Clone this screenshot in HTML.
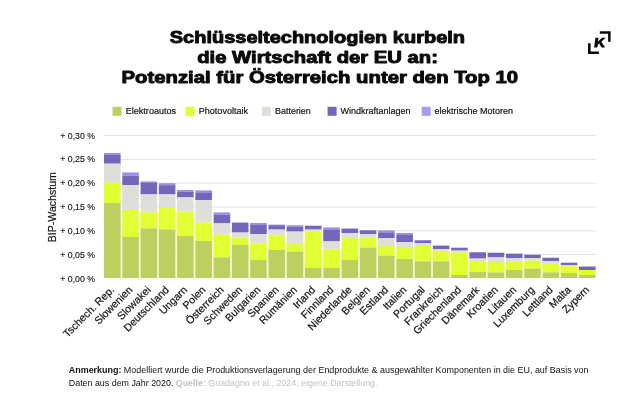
<!DOCTYPE html>
<html lang="de"><head><meta charset="utf-8"><title>Chart</title>
<style>
html,body{margin:0;padding:0;background:#fff;}
body{width:640px;height:406px;overflow:hidden;font-family:"Liberation Sans",sans-serif;}
svg{display:block;position:absolute;left:0;top:0;filter:blur(0.35px);}
text{font-family:"Liberation Sans",sans-serif;}
.t{font-weight:bold;font-size:17px;fill:#0b0b0b;stroke:#0b0b0b;stroke-width:0.95px;stroke-linejoin:round;}
.lg{font-size:9.2px;fill:#151515;stroke:#151515;stroke-width:0.2px;}
.yl{font-size:8.8px;fill:#1a1a1a;stroke:#1a1a1a;stroke-width:0.15px;}
.xl{font-size:10.6px;fill:#151515;stroke:#151515;stroke-width:0.2px;}
.ft{font-size:8.8px;fill:#111;}
</style></head><body>
<svg width="640" height="406" viewBox="0 0 640 406">
<rect width="640" height="406" fill="#ffffff"/>
<text class="t" x="169.8" y="42.5" textLength="295.2" lengthAdjust="spacingAndGlyphs">Schlüsseltechnologien kurbeln</text>
<text class="t" x="197.2" y="62.5" textLength="240.8" lengthAdjust="spacingAndGlyphs">die Wirtschaft der EU an:</text>
<text class="t" x="121.5" y="82.5" textLength="396.6" lengthAdjust="spacingAndGlyphs">Potenzial für Österreich unter den Top 10</text>
<g fill="#0b0b0b"><path d="M599.8 31.3H610.6V41.7H608.1V33.7H599.8Z"/><path d="M588 43.3H590.6V51.5H598.9V54H588Z"/><path d="M595.4 37.7H598.6L598.0 41.5L602.0 37.7H605.7L601.3 41.7L605.2 47.6H601.6L599.1 43.5L597.9 44.6L597.3 47.6H594.1Z"/></g>
<rect x="112.5" y="106.8" width="9" height="9" fill="#bdd05f"/><text class="lg" x="125.8" y="114.2" textLength="50.2" lengthAdjust="spacingAndGlyphs">Elektroautos</text>
<rect x="185.5" y="106.8" width="9" height="9" fill="#e2ff33"/><text class="lg" x="198.8" y="114.2" textLength="49.2" lengthAdjust="spacingAndGlyphs">Photovoltaik</text>
<rect x="261.8" y="106.8" width="9" height="9" fill="#dfded9"/><text class="lg" x="275" y="114.2" textLength="35.8" lengthAdjust="spacingAndGlyphs">Batterien</text>
<rect x="327.6" y="106.8" width="9" height="9" fill="#7466b8"/><text class="lg" x="340.5" y="114.2" textLength="70" lengthAdjust="spacingAndGlyphs">Windkraftanlagen</text>
<rect x="421.7" y="106.8" width="9" height="9" fill="#a79df0"/><text class="lg" x="434.5" y="114.2" textLength="78.5" lengthAdjust="spacingAndGlyphs">elektrische Motoren</text>
<line x1="103.2" x2="596" y1="135.4" y2="135.4" stroke="#e1e1e1" stroke-width="1"/><text class="yl" x="60.3" y="138.5" textLength="34.7" lengthAdjust="spacingAndGlyphs">+ 0,30 %</text>
<line x1="103.2" x2="596" y1="159.3" y2="159.3" stroke="#e1e1e1" stroke-width="1"/><text class="yl" x="60.3" y="162.4" textLength="34.7" lengthAdjust="spacingAndGlyphs">+ 0,25 %</text>
<line x1="103.2" x2="596" y1="183.1" y2="183.1" stroke="#e1e1e1" stroke-width="1"/><text class="yl" x="60.3" y="186.2" textLength="34.7" lengthAdjust="spacingAndGlyphs">+ 0,20 %</text>
<line x1="103.2" x2="596" y1="207.0" y2="207.0" stroke="#e1e1e1" stroke-width="1"/><text class="yl" x="60.3" y="210.1" textLength="34.7" lengthAdjust="spacingAndGlyphs">+ 0,15 %</text>
<line x1="103.2" x2="596" y1="230.8" y2="230.8" stroke="#e1e1e1" stroke-width="1"/><text class="yl" x="60.3" y="233.9" textLength="34.7" lengthAdjust="spacingAndGlyphs">+ 0,10 %</text>
<line x1="103.2" x2="596" y1="254.6" y2="254.6" stroke="#e1e1e1" stroke-width="1"/><text class="yl" x="60.3" y="257.7" textLength="34.7" lengthAdjust="spacingAndGlyphs">+ 0,05 %</text>
<text class="yl" x="60.3" y="281.5" textLength="34.7" lengthAdjust="spacingAndGlyphs">+ 0,00 %</text>
<text class="lg" style="font-size:10.4px" transform="translate(56.0,242.3) rotate(-90)" textLength="70.2" lengthAdjust="spacingAndGlyphs">BIP-Wachstum</text>
<rect x="120.60" y="210.0" width="1.67" height="68.0" fill="#f8fbd6"/><rect x="138.87" y="212.3" width="1.67" height="65.7" fill="#f8fbd6"/><rect x="157.14" y="212.3" width="1.67" height="65.7" fill="#f8fbd6"/><rect x="175.41" y="211.6" width="1.67" height="66.4" fill="#f8fbd6"/><rect x="193.68" y="222.5" width="1.67" height="55.5" fill="#f8fbd6"/><rect x="211.95" y="234.6" width="1.67" height="43.4" fill="#f8fbd6"/><rect x="230.22" y="237.6" width="1.67" height="40.4" fill="#f8fbd6"/><rect x="248.49" y="243.4" width="1.67" height="34.6" fill="#f8fbd6"/><rect x="266.76" y="243.4" width="1.67" height="34.6" fill="#f8fbd6"/><rect x="285.03" y="243.0" width="1.67" height="35.0" fill="#f8fbd6"/><rect x="303.30" y="243.0" width="1.67" height="35.0" fill="#f8fbd6"/><rect x="321.57" y="249.4" width="1.67" height="28.6" fill="#f8fbd6"/><rect x="339.84" y="249.4" width="1.67" height="28.6" fill="#f8fbd6"/><rect x="358.11" y="238.0" width="1.67" height="40.0" fill="#f8fbd6"/><rect x="376.38" y="246.0" width="1.67" height="32.0" fill="#f8fbd6"/><rect x="394.65" y="248.0" width="1.67" height="30.0" fill="#f8fbd6"/><rect x="412.92" y="248.0" width="1.67" height="30.0" fill="#f8fbd6"/><rect x="431.19" y="252.0" width="1.67" height="26.0" fill="#f8fbd6"/><rect x="449.46" y="252.4" width="1.67" height="25.6" fill="#f8fbd6"/><rect x="467.73" y="261.0" width="1.67" height="17.0" fill="#f8fbd6"/><rect x="486.00" y="262.0" width="1.67" height="16.0" fill="#f8fbd6"/><rect x="504.27" y="262.0" width="1.67" height="16.0" fill="#f8fbd6"/><rect x="522.54" y="261.6" width="1.67" height="16.4" fill="#f8fbd6"/><rect x="540.81" y="264.0" width="1.67" height="14.0" fill="#f8fbd6"/><rect x="559.08" y="266.0" width="1.67" height="12.0" fill="#f8fbd6"/><rect x="577.35" y="270.0" width="1.67" height="8.0" fill="#f8fbd6"/>
<rect x="104.00" y="153.0" width="16.6" height="1.5" fill="#9a8fe2"/><rect x="104.00" y="154.5" width="16.6" height="9.2" fill="#7466b8"/><rect x="104.00" y="163.7" width="16.6" height="18.9" fill="#dfded9"/><rect x="104.00" y="182.6" width="16.6" height="20.4" fill="#e2ff33"/><rect x="104.00" y="203.0" width="16.6" height="75.0" fill="#bdd05f"/>
<text class="xl" text-anchor="end" transform="translate(114.9,290.5) rotate(-45)">Tschech. Rep.</text>
<rect x="122.27" y="172.4" width="16.6" height="3.2" fill="#9a8fe2"/><rect x="122.27" y="175.6" width="16.6" height="9.6" fill="#7466b8"/><rect x="122.27" y="185.2" width="16.6" height="24.8" fill="#dfded9"/><rect x="122.27" y="210.0" width="16.6" height="27.0" fill="#e2ff33"/><rect x="122.27" y="237.0" width="16.6" height="41.0" fill="#bdd05f"/>
<text class="xl" text-anchor="end" transform="translate(133.2,290.5) rotate(-45)">Slowenien</text>
<rect x="140.54" y="181.4" width="16.6" height="1.6" fill="#9a8fe2"/><rect x="140.54" y="183.0" width="16.6" height="11.4" fill="#7466b8"/><rect x="140.54" y="194.4" width="16.6" height="17.9" fill="#dfded9"/><rect x="140.54" y="212.3" width="16.6" height="16.0" fill="#e2ff33"/><rect x="140.54" y="228.3" width="16.6" height="49.7" fill="#bdd05f"/>
<text class="xl" text-anchor="end" transform="translate(151.4,290.5) rotate(-45)">Slowakei</text>
<rect x="158.81" y="183.2" width="16.6" height="2.0" fill="#9a8fe2"/><rect x="158.81" y="185.2" width="16.6" height="9.2" fill="#7466b8"/><rect x="158.81" y="194.4" width="16.6" height="13.6" fill="#dfded9"/><rect x="158.81" y="208.0" width="16.6" height="21.5" fill="#e2ff33"/><rect x="158.81" y="229.5" width="16.6" height="48.5" fill="#bdd05f"/>
<text class="xl" text-anchor="end" transform="translate(169.7,290.5) rotate(-45)">Deutschland</text>
<rect x="177.08" y="190.0" width="16.6" height="1.6" fill="#9a8fe2"/><rect x="177.08" y="191.6" width="16.6" height="5.8" fill="#7466b8"/><rect x="177.08" y="197.4" width="16.6" height="14.2" fill="#dfded9"/><rect x="177.08" y="211.6" width="16.6" height="24.4" fill="#e2ff33"/><rect x="177.08" y="236.0" width="16.6" height="42.0" fill="#bdd05f"/>
<text class="xl" text-anchor="end" transform="translate(188.0,290.5) rotate(-45)">Ungarn</text>
<rect x="195.35" y="190.4" width="16.6" height="2.6" fill="#9a8fe2"/><rect x="195.35" y="193.0" width="16.6" height="7.0" fill="#7466b8"/><rect x="195.35" y="200.0" width="16.6" height="22.5" fill="#dfded9"/><rect x="195.35" y="222.5" width="16.6" height="18.5" fill="#e2ff33"/><rect x="195.35" y="241.0" width="16.6" height="37.0" fill="#bdd05f"/>
<text class="xl" text-anchor="end" transform="translate(206.2,290.5) rotate(-45)">Polen</text>
<rect x="213.62" y="212.4" width="16.6" height="2.4" fill="#9a8fe2"/><rect x="213.62" y="214.8" width="16.6" height="8.6" fill="#7466b8"/><rect x="213.62" y="223.4" width="16.6" height="11.2" fill="#dfded9"/><rect x="213.62" y="234.6" width="16.6" height="22.8" fill="#e2ff33"/><rect x="213.62" y="257.4" width="16.6" height="20.6" fill="#bdd05f"/>
<text class="xl" text-anchor="end" transform="translate(224.5,290.5) rotate(-45)">Österreich</text>
<rect x="231.89" y="222.4" width="16.6" height="0.6" fill="#9a8fe2"/><rect x="231.89" y="223.0" width="16.6" height="9.6" fill="#7466b8"/><rect x="231.89" y="232.6" width="16.6" height="5.0" fill="#dfded9"/><rect x="231.89" y="237.6" width="16.6" height="7.4" fill="#e2ff33"/><rect x="231.89" y="245.0" width="16.6" height="33.0" fill="#bdd05f"/>
<text class="xl" text-anchor="end" transform="translate(242.8,290.5) rotate(-45)">Schweden</text>
<rect x="250.16" y="223.0" width="16.6" height="2.0" fill="#9a8fe2"/><rect x="250.16" y="225.0" width="16.6" height="9.0" fill="#7466b8"/><rect x="250.16" y="234.0" width="16.6" height="9.4" fill="#dfded9"/><rect x="250.16" y="243.4" width="16.6" height="16.6" fill="#e2ff33"/><rect x="250.16" y="260.0" width="16.6" height="18.0" fill="#bdd05f"/>
<text class="xl" text-anchor="end" transform="translate(261.1,290.5) rotate(-45)">Bulgarien</text>
<rect x="268.43" y="224.6" width="16.6" height="0.6" fill="#9a8fe2"/><rect x="268.43" y="225.2" width="16.6" height="4.4" fill="#7466b8"/><rect x="268.43" y="229.6" width="16.6" height="5.8" fill="#dfded9"/><rect x="268.43" y="235.4" width="16.6" height="14.6" fill="#e2ff33"/><rect x="268.43" y="250.0" width="16.6" height="28.0" fill="#bdd05f"/>
<text class="xl" text-anchor="end" transform="translate(279.3,290.5) rotate(-45)">Spanien</text>
<rect x="286.70" y="225.2" width="16.6" height="1.4" fill="#9a8fe2"/><rect x="286.70" y="226.6" width="16.6" height="5.0" fill="#7466b8"/><rect x="286.70" y="231.6" width="16.6" height="11.4" fill="#dfded9"/><rect x="286.70" y="243.0" width="16.6" height="8.6" fill="#e2ff33"/><rect x="286.70" y="251.6" width="16.6" height="26.4" fill="#bdd05f"/>
<text class="xl" text-anchor="end" transform="translate(297.6,290.5) rotate(-45)">Rumänien</text>
<rect x="304.97" y="225.6" width="16.6" height="0.4" fill="#9a8fe2"/><rect x="304.97" y="226.0" width="16.6" height="3.6" fill="#7466b8"/><rect x="304.97" y="229.6" width="16.6" height="1.8" fill="#dfded9"/><rect x="304.97" y="231.4" width="16.6" height="36.6" fill="#e2ff33"/><rect x="304.97" y="268.0" width="16.6" height="10.0" fill="#bdd05f"/>
<text class="xl" text-anchor="end" transform="translate(315.9,290.5) rotate(-45)">Irland</text>
<rect x="323.24" y="227.4" width="16.6" height="2.6" fill="#9a8fe2"/><rect x="323.24" y="230.0" width="16.6" height="11.4" fill="#7466b8"/><rect x="323.24" y="241.4" width="16.6" height="8.0" fill="#dfded9"/><rect x="323.24" y="249.4" width="16.6" height="18.6" fill="#e2ff33"/><rect x="323.24" y="268.0" width="16.6" height="10.0" fill="#bdd05f"/>
<text class="xl" text-anchor="end" transform="translate(334.1,290.5) rotate(-45)">Finnland</text>
<rect x="341.51" y="228.4" width="16.6" height="0.6" fill="#9a8fe2"/><rect x="341.51" y="229.0" width="16.6" height="4.0" fill="#7466b8"/><rect x="341.51" y="233.0" width="16.6" height="5.0" fill="#dfded9"/><rect x="341.51" y="238.0" width="16.6" height="22.0" fill="#e2ff33"/><rect x="341.51" y="260.0" width="16.6" height="18.0" fill="#bdd05f"/>
<text class="xl" text-anchor="end" transform="translate(352.4,290.5) rotate(-45)">Niederlande</text>
<rect x="359.78" y="230.0" width="16.6" height="0.4" fill="#9a8fe2"/><rect x="359.78" y="230.4" width="16.6" height="3.6" fill="#7466b8"/><rect x="359.78" y="234.0" width="16.6" height="3.6" fill="#dfded9"/><rect x="359.78" y="237.6" width="16.6" height="10.0" fill="#e2ff33"/><rect x="359.78" y="247.6" width="16.6" height="30.4" fill="#bdd05f"/>
<text class="xl" text-anchor="end" transform="translate(370.7,290.5) rotate(-45)">Belgien</text>
<rect x="378.05" y="230.4" width="16.6" height="2.0" fill="#9a8fe2"/><rect x="378.05" y="232.4" width="16.6" height="5.6" fill="#7466b8"/><rect x="378.05" y="238.0" width="16.6" height="8.0" fill="#dfded9"/><rect x="378.05" y="246.0" width="16.6" height="9.6" fill="#e2ff33"/><rect x="378.05" y="255.6" width="16.6" height="22.4" fill="#bdd05f"/>
<text class="xl" text-anchor="end" transform="translate(389.0,290.5) rotate(-45)">Estland</text>
<rect x="396.32" y="233.0" width="16.6" height="1.4" fill="#9a8fe2"/><rect x="396.32" y="234.4" width="16.6" height="7.6" fill="#7466b8"/><rect x="396.32" y="242.0" width="16.6" height="6.0" fill="#dfded9"/><rect x="396.32" y="248.0" width="16.6" height="11.0" fill="#e2ff33"/><rect x="396.32" y="259.0" width="16.6" height="19.0" fill="#bdd05f"/>
<text class="xl" text-anchor="end" transform="translate(407.2,290.5) rotate(-45)">Italien</text>
<rect x="414.59" y="240.0" width="16.6" height="0.4" fill="#9a8fe2"/><rect x="414.59" y="240.4" width="16.6" height="2.6" fill="#7466b8"/><rect x="414.59" y="243.0" width="16.6" height="3.0" fill="#dfded9"/><rect x="414.59" y="246.0" width="16.6" height="15.4" fill="#e2ff33"/><rect x="414.59" y="261.4" width="16.6" height="16.6" fill="#bdd05f"/>
<text class="xl" text-anchor="end" transform="translate(425.5,290.5) rotate(-45)">Portugal</text>
<rect x="432.86" y="245.4" width="16.6" height="0.4" fill="#9a8fe2"/><rect x="432.86" y="245.8" width="16.6" height="3.2" fill="#7466b8"/><rect x="432.86" y="249.0" width="16.6" height="3.0" fill="#dfded9"/><rect x="432.86" y="252.0" width="16.6" height="9.4" fill="#e2ff33"/><rect x="432.86" y="261.4" width="16.6" height="16.6" fill="#bdd05f"/>
<text class="xl" text-anchor="end" transform="translate(443.8,290.5) rotate(-45)">Frankreich</text>
<rect x="451.13" y="247.6" width="16.6" height="0.4" fill="#9a8fe2"/><rect x="451.13" y="248.0" width="16.6" height="2.6" fill="#7466b8"/><rect x="451.13" y="250.6" width="16.6" height="1.8" fill="#dfded9"/><rect x="451.13" y="252.4" width="16.6" height="22.6" fill="#e2ff33"/><rect x="451.13" y="275.0" width="16.6" height="3.0" fill="#bdd05f"/>
<text class="xl" text-anchor="end" transform="translate(462.0,290.5) rotate(-45)">Griechenland</text>
<rect x="469.40" y="252.0" width="16.6" height="0.3" fill="#9a8fe2"/><rect x="469.40" y="252.3" width="16.6" height="6.3" fill="#7466b8"/><rect x="469.40" y="258.6" width="16.6" height="2.4" fill="#dfded9"/><rect x="469.40" y="261.0" width="16.6" height="11.0" fill="#e2ff33"/><rect x="469.40" y="272.0" width="16.6" height="6.0" fill="#bdd05f"/>
<text class="xl" text-anchor="end" transform="translate(480.3,290.5) rotate(-45)">Dänemark</text>
<rect x="487.67" y="252.6" width="16.6" height="0.4" fill="#9a8fe2"/><rect x="487.67" y="253.0" width="16.6" height="4.4" fill="#7466b8"/><rect x="487.67" y="257.4" width="16.6" height="4.6" fill="#dfded9"/><rect x="487.67" y="262.0" width="16.6" height="10.4" fill="#e2ff33"/><rect x="487.67" y="272.4" width="16.6" height="5.6" fill="#bdd05f"/>
<text class="xl" text-anchor="end" transform="translate(498.6,290.5) rotate(-45)">Kroatien</text>
<rect x="505.94" y="253.5" width="16.6" height="0.3" fill="#9a8fe2"/><rect x="505.94" y="253.8" width="16.6" height="4.2" fill="#7466b8"/><rect x="505.94" y="258.0" width="16.6" height="3.6" fill="#dfded9"/><rect x="505.94" y="261.6" width="16.6" height="8.4" fill="#e2ff33"/><rect x="505.94" y="270.0" width="16.6" height="8.0" fill="#bdd05f"/>
<text class="xl" text-anchor="end" transform="translate(516.8,290.5) rotate(-45)">Litauen</text>
<rect x="524.21" y="254.6" width="16.6" height="0.3" fill="#9a8fe2"/><rect x="524.21" y="254.9" width="16.6" height="3.1" fill="#7466b8"/><rect x="524.21" y="258.0" width="16.6" height="2.6" fill="#dfded9"/><rect x="524.21" y="260.6" width="16.6" height="8.0" fill="#e2ff33"/><rect x="524.21" y="268.6" width="16.6" height="9.4" fill="#bdd05f"/>
<text class="xl" text-anchor="end" transform="translate(535.1,290.5) rotate(-45)">Luxemburg</text>
<rect x="542.48" y="257.6" width="16.6" height="0.3" fill="#9a8fe2"/><rect x="542.48" y="257.9" width="16.6" height="3.1" fill="#7466b8"/><rect x="542.48" y="261.0" width="16.6" height="3.0" fill="#dfded9"/><rect x="542.48" y="264.0" width="16.6" height="8.4" fill="#e2ff33"/><rect x="542.48" y="272.4" width="16.6" height="5.6" fill="#bdd05f"/>
<text class="xl" text-anchor="end" transform="translate(553.4,290.5) rotate(-45)">Lettland</text>
<rect x="560.75" y="262.6" width="16.6" height="0.2" fill="#9a8fe2"/><rect x="560.75" y="262.8" width="16.6" height="2.2" fill="#7466b8"/><rect x="560.75" y="265.0" width="16.6" height="1.0" fill="#dfded9"/><rect x="560.75" y="266.0" width="16.6" height="7.0" fill="#e2ff33"/><rect x="560.75" y="273.0" width="16.6" height="5.0" fill="#bdd05f"/>
<text class="xl" text-anchor="end" transform="translate(571.6,290.5) rotate(-45)">Malta</text>
<rect x="579.02" y="266.4" width="16.6" height="0.2" fill="#9a8fe2"/><rect x="579.02" y="266.6" width="16.6" height="3.4" fill="#7466b8"/><rect x="579.02" y="270.0" width="16.6" height="5.0" fill="#e2ff33"/><rect x="579.02" y="275.0" width="16.6" height="3.0" fill="#bdd05f"/>
<text class="xl" text-anchor="end" transform="translate(589.9,290.5) rotate(-45)">Zypern</text>
<text class="ft" x="68.8" y="373.2" textLength="519.7" lengthAdjust="spacingAndGlyphs"><tspan font-weight="bold">Anmerkung:</tspan> Modelliert wurde die Produktionsverlagerung der Endprodukte &amp; ausgewählter Komponenten in die EU, auf Basis von</text>
<text class="ft" x="68.8" y="385.5" textLength="308.7" lengthAdjust="spacingAndGlyphs">Daten aus dem Jahr 2020. <tspan font-weight="bold" fill="#c2c2c2">Quelle:</tspan><tspan fill="#c2c2c2"> Guadagno et al., 2024, eigene Darstellung.</tspan></text>
</svg>
</body></html>
